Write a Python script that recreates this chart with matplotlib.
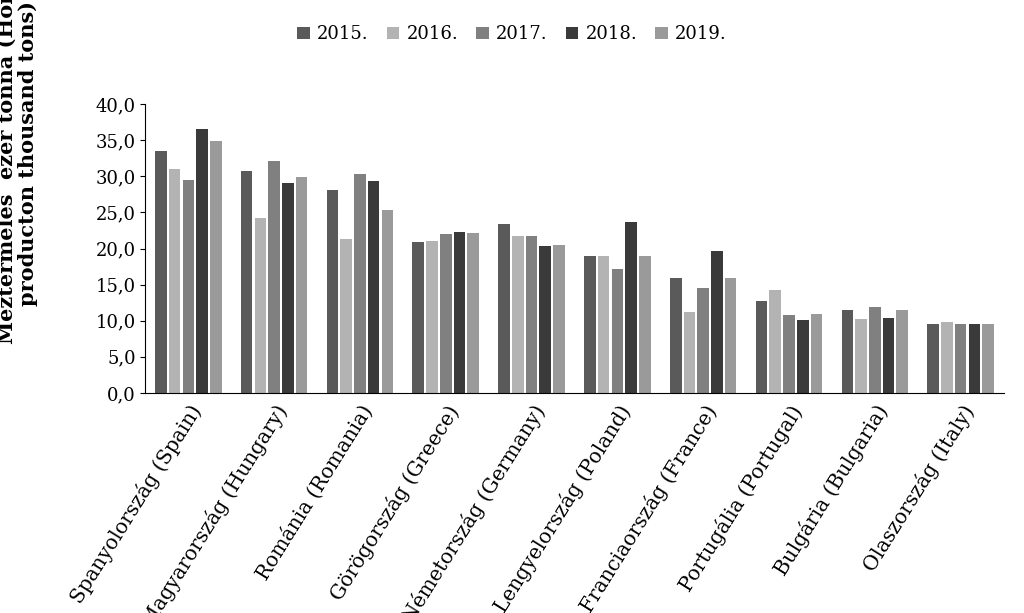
import matplotlib.pyplot as plt
import numpy as np

countries = ["Spanyolország (Spain)", "Magyarország (Hungary)", "Románia (Romania)",
             "Görögország (Greece)", "Németország (Germany)", "Lengyelország (Poland)",
             "Franciaország (France)", "Portugália (Portugal)", "Bulgária (Bulgaria)",
             "Olaszország (Italy)"]
years = ["2015.", "2016.", "2017.", "2018.", "2019."]
v2015 = [33.5, 30.7, 28.1, 20.9, 23.4, 19.0, 15.9, 12.7, 11.5, 9.5]
v2016 = [31.0, 24.2, 21.3, 21.0, 21.7, 19.0, 11.2, 14.3, 10.2, 9.8]
v2017 = [29.5, 32.1, 30.3, 22.0, 21.7, 17.2, 14.5, 10.8, 11.9, 9.5]
v2018 = [36.5, 29.1, 29.3, 22.3, 20.3, 23.7, 19.6, 10.1, 10.4, 9.5]
v2019 = [34.9, 29.9, 25.3, 22.1, 20.5, 19.0, 15.9, 10.9, 11.5, 9.5]
series = [v2015, v2016, v2017, v2018, v2019]
colors = ["#5a5a5a", "#b3b3b3", "#808080", "#3a3a3a", "#9a9a9a"]

plt.rcParams["font.family"] = "DejaVu Serif"
fig = plt.figure(figsize=(10.24, 6.13), dpi=100)
ax = fig.add_axes([0.142, 0.359, 0.838, 0.471])

x = np.arange(len(countries))
w = 0.135
gap = 0.16
for i, (vals, yr) in enumerate(zip(series, years)):
    ax.bar(x + (i - 2) * gap, vals, w, color=colors[i], label=yr)

ax.set_ylim(0, 40)
ax.set_yticks(np.arange(0, 41, 5))
ax.set_yticklabels([f"{v:.1f}".replace(".", ",") for v in np.arange(0, 41, 5)], fontsize=13)
ax.set_xlim(-0.5, len(countries) - 0.5)
ax.set_xticks(x)
ax.set_xticklabels(countries, rotation=58, ha="right", rotation_mode="anchor", fontsize=14.5)
ax.tick_params(axis="x", length=0, pad=6)
ax.spines["top"].set_visible(False)
ax.spines["right"].set_visible(False)
ax.set_ylabel("Méztermelés  ezer tonna (Honey\nproducton thousand tons)", fontsize=15,
              fontweight="bold", linespacing=1.1)
ax.yaxis.set_label_coords(-0.125, 0.83)
fig.legend(loc="upper center", bbox_to_anchor=(0.5, 0.985), ncol=5, frameon=False,
           fontsize=13, handlelength=0.7, handleheight=0.7, columnspacing=1.0, handletextpad=0.4)
fig.savefig("out.png", dpi=100)
